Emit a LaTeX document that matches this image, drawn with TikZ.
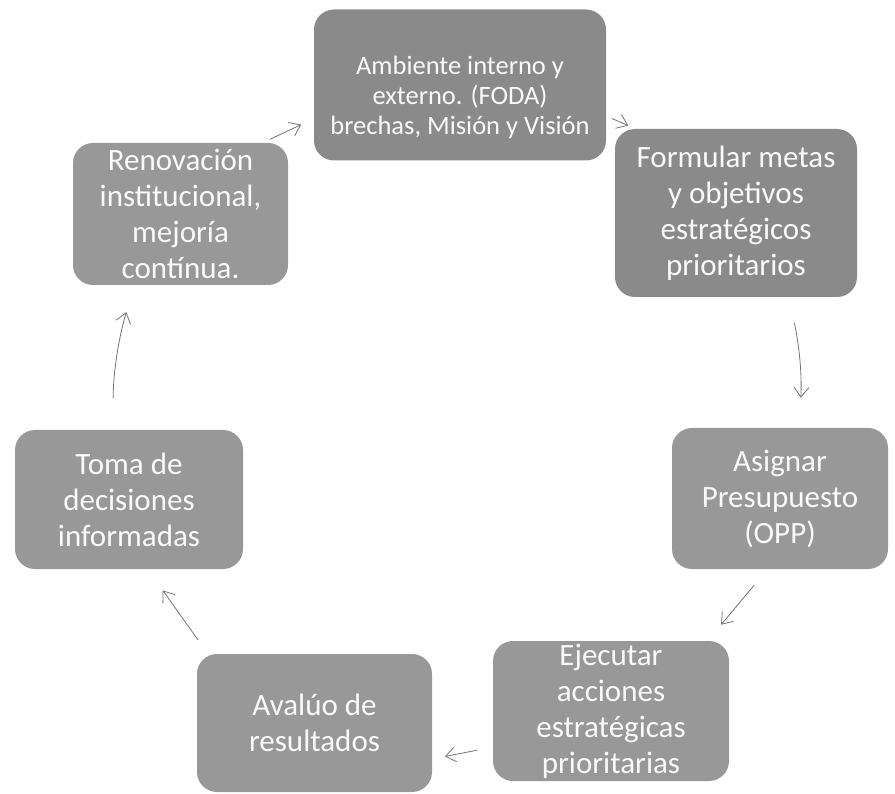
\documentclass[tikz,border=0pt]{standalone}
\usepackage{fontspec}
\setmainfont{Carlito}
\usetikzlibrary{arrows.meta}
\definecolor{cajaoscura}{RGB}{138,138,138}
\definecolor{cajaclara}{RGB}{152,152,152}
\definecolor{flechagris}{RGB}{115,115,115}
\begin{document}
\begin{tikzpicture}[
        x=1pt, y=-1pt,
        caja/.style={rectangle, rounded corners=20pt, fill=cajaclara, text=white!96!gray,
            align=center, inner sep=0pt, font=\fontsize{31}{36}\selectfont},
        flecha/.style={draw=flechagris, line width=0.8pt, -{Straight Barb[length=10pt, width=15pt]}}
    ]
        \useasboundingbox (0,0) rectangle (895,794);

        % Steps of the cycle
        \node[caja, fill=cajaoscura, minimum width=292pt, minimum height=151pt,
            font=\fontsize{26.5}{30}\selectfont] (amb) at (460,85)
            {\rule{0pt}{44pt}Ambiente interno y\\ externo. (FODA)\\ brechas, Misión y Visión};
        \node[caja, fill=cajaoscura, minimum width=242pt, minimum height=168pt] (form) at (736,213)
            {Formular metas\\ y objetivos\\ estratégicos\\ prioritarios};
        \node[caja, minimum width=216pt, minimum height=141pt] (asig) at (780,498.5)
            {Asignar\\ Presupuesto\\ (OPP)};
        \node[caja, minimum width=236pt, minimum height=140pt] (ejec) at (611,711)
            {Ejecutar\\ acciones\\ estratégicas\\ prioritarias};
        \node[caja, minimum width=235pt, minimum height=138pt] (aval) at (314.5,723)
            {Avalúo de\\ resultados};
        \node[caja, minimum width=228pt, minimum height=139pt] (toma) at (129,499.5)
            {Toma de\\ decisiones\\ informadas};
        \node[caja, minimum width=215pt, minimum height=142pt] (renov) at (180.5,214)
            {Renovación\\ institucional,\\ mejoría\\ contínua.};

        % Arrows around the cycle
        \draw[flecha, shorten <=8pt, shorten >=14pt] (renov.41) -- (amb.193);
        \draw[flecha, shorten <=6pt, shorten >=8pt] (amb.-12) -- (form.140);
        \draw[flecha, shorten <=26pt, shorten >=30pt] (form.-58) to[bend left=8] (asig.75);
        \draw[flecha, shorten <=21pt, shorten >=21pt] (asig.260) -- (ejec.36);
        \draw[flecha, shorten <=16pt, shorten >=13pt] (ejec.197) -- (aval.-17);
        \draw[flecha, shorten <=17pt, shorten >=26pt] (aval.147) -- (toma.-75);
        \draw[flecha, shorten <=32pt, shorten >=28pt] (toma.103) to[bend left=8] (renov.237);
    \end{tikzpicture}
\end{document}
